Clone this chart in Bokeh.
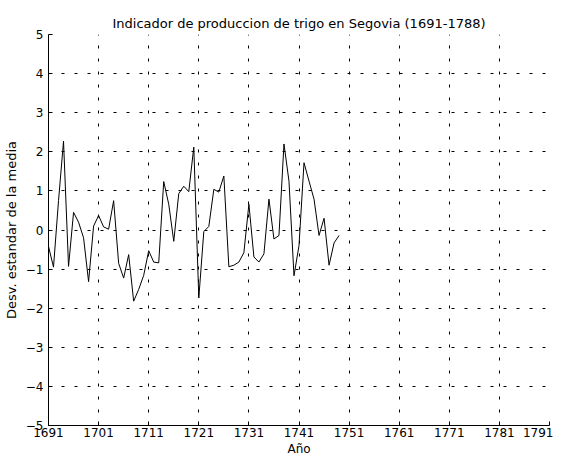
from bokeh.plotting import figure
from bokeh.models import Range1d, FixedTicker, Title
from bokeh.embed import file_html
from bokeh.resources import INLINE

years = list(range(1691, 1750))
values = [-0.42, -0.95, 0.75, 2.27, -0.93, 0.45, 0.2, -0.2, -1.32, 0.1,
          0.37, 0.08, 0.02, 0.75, -0.85, -1.23, -0.63, -1.82, -1.52, -1.16,
          -0.53, -0.82, -0.84, 1.24, 0.66, -0.29, 0.93, 1.12, 0.98, 2.12,
          -1.74, -0.04, 0.09, 1.04, 0.97, 1.38, -0.94, -0.9, -0.82, -0.58,
          0.66, -0.69, -0.82, -0.61, 0.79, -0.23, -0.14, 2.2, 1.25, -1.17,
          -0.4, 1.72, 1.25, 0.79, -0.14, 0.3, -0.9, -0.33, -0.14]
x_ticks = list(range(1691, 1792, 10))
y_ticks = [-5, -4, -3, -2, -1, 0, 1, 2, 3, 4, 5]

FONT = "DejaVu Sans"
TITLE = "Indicador de produccion de trigo en Segovia (1691-1788)"

p = figure(frame_width=501, frame_height=391, output_backend="svg", toolbar_location=None,
           x_range=Range1d(1691, 1791), y_range=Range1d(-5, 5),
           title=" ",
           min_border_left=40, min_border_right=4, min_border_top=27, min_border_bottom=32)

# blank spacer title (outermost)
p.title.text_font_size = "7px"
p.title.standoff = 0

main_title = Title(text=TITLE, align="center", text_font=FONT, text_font_size="13px",
                   text_font_style="normal", text_color="black", standoff=8)
p.add_layout(main_title, "above")

p.outline_line_color = None
p.background_fill_color = "white"
p.border_fill_color = "white"

p.line(years, values, line_color="black", line_width=1)

p.xaxis.ticker = FixedTicker(ticks=x_ticks)
p.yaxis.ticker = FixedTicker(ticks=y_ticks)
p.xaxis.axis_label = "Año"
p.yaxis.axis_label = "Desv. estandar de la media"

for ax in (p.xaxis, p.yaxis):
    ax.axis_line_color = "black"
    ax.axis_line_width = 1
    ax.major_tick_in = 4
    ax.major_tick_out = 0
    ax.major_tick_line_color = "black"
    ax.minor_tick_line_color = None
    ax.major_label_text_font = FONT
    ax.major_label_text_font_size = "12px"
    ax.major_label_text_color = "black"
    ax.axis_label_text_font = FONT
    ax.axis_label_text_font_size = "12px"
    ax.axis_label_text_font_style = "normal"
    ax.axis_label_text_color = "black"

p.yaxis.axis_label_text_font_size = "13px"
p.xaxis.major_label_standoff = 2
p.xaxis.axis_label_standoff = 2
p.yaxis.major_label_standoff = 5
p.yaxis.axis_label_standoff = 4

for g in (p.xgrid, p.ygrid):
    g.grid_line_color = "black"
    g.grid_line_dash = "3 10"
    g.grid_line_width = 1
    g.grid_line_alpha = 1

p.xgrid.ticker = FixedTicker(ticks=x_ticks)
p.ygrid.ticker = FixedTicker(ticks=y_ticks)

open("out.html", "w").write(file_html(p, INLINE))
